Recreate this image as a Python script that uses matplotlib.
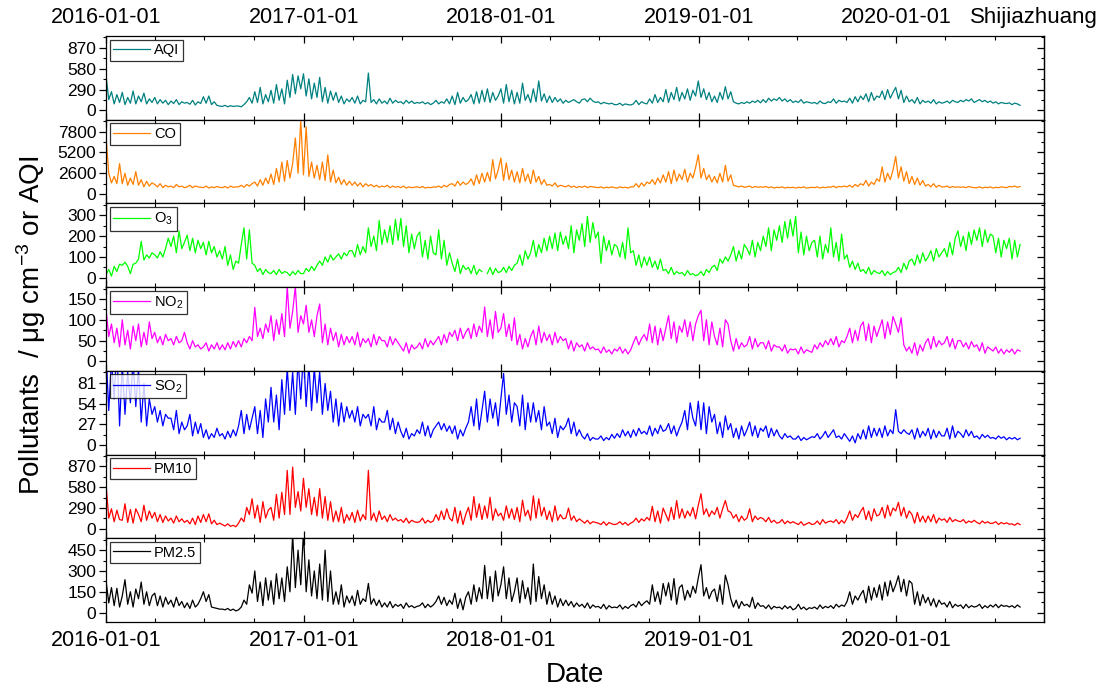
import numpy as np
import pandas as pd
import matplotlib
matplotlib.use("Agg")
import matplotlib.pyplot as plt
import matplotlib.dates as mdates
from matplotlib.ticker import FixedLocator, MultipleLocator

plt.rcParams["font.family"] = ["Liberation Sans", "DejaVu Sans"]
plt.rcParams["mathtext.fontset"] = "custom"
plt.rcParams["mathtext.rm"] = "Liberation Sans"
plt.rcParams["mathtext.it"] = "Liberation Sans:italic"

nan = float("nan")

# sampling: one reading every 5 days starting 2016-01-01 (339 readings)
start_date = "2016-01-01"
step_days = 5
n_points = 339

aqi = [
    # 2016
    480, 150, 260, 90, 220, 110, 250, 80, 180, 100, 270, 90, 200, 120, 240, 90, 160, 110,
    180, 90, 150, 100, 140, 80, 130, 95, 150, 80, 120, 100, 110, 85, 140, 75, 120, 95,
    190, 100, 200, 80, 120, 70, 60, 55, 70, 50, 65, 55, 60, 60, 50, 80, 120, 180, 100,
    260, 110, 320, 90, 220, 120, 280, 100, 360, 140, 300, 90, 420, 180, 500, 230, 480, 300,
    # 2017
    510, 200, 440, 160, 380, 180, 460, 120, 320, 100, 270, 140, 250, 110, 200, 90, 160, 120,
    180, 100, 200, 90, 140, 120, 520, 110, 150, 90, 160, 100, 130, 90, 170, 100, 140, 110,
    120, 90, 140, 100, 130, 95, 110, 100, 120, 90, 110, 80, 100, 140, 90, 120, 100, 160, 90,
    200, 80, 250, 100, 180, 120, 150, 220, 90, 260, 100, 280, 120, 300, 110, 250, 140, 200,
    # 2018
    300, 100, 360, 120, 280, 90, 250, 100, 380, 140, 220, 110, 300, 120, 410, 130, 230, 110,
    200, 110, 180, 120, 160, 100, 140, 110, 130, 150, 120, 100, 150, 160, 120, 170, 130, 110,
    120, 90, 110, 100, 90, 100, 80, 80, 100, 70, 90, 80, 75, 90, 140, 80, 120, 100, 90,
    160, 100, 220, 110, 180, 120, 290, 110, 250, 150, 320, 130, 250, 160, 300, 140, 280, 200,
    # 2019
    410, 180, 300, 150, 250, 120, 200, 110, 250, 150, 330, 160, 260, 120, 100, 90, 110, 95,
    120, 100, 130, 110, 140, 105, 150, 110, 170, 130, 160, 140, 180, 130, 160, 120, 150, 110,
    130, 110, 150, 100, 120, 110, 100, 110, 90, 130, 100, 95, 120, 110, 160, 100, 140, 120, 130,
    110, 170, 100, 190, 120, 200, 150, 230, 120, 250, 140, 200, 180, 270, 150, 290, 170, 250,
    # 2020
    320, 160, 280, 110, 200, 120, 150, 100, 180, 90, 140, 110, 130, 100, 150, 90, 120, 100,
    110, 130, 100, 140, 120, 110, 140, 120, 150, 130, 160, 110, 130, 150, 120, 140, 110, 130,
    100, 120, 90, 110, 100, 95, 105, 80, 100, 90, 70,
]

co = [
    # 2016
    7200, 2600, 1400, 2200, 1300, 3800, 1300, 2600, 1100, 2000, 1200, 2800,
    1100, 1800, 900, 1600, 1000, 1400, 1200, 900, 1300, 800, 1100, 900,
    1000, 800, 1200, 900, 1000, 800, 900, 1100, 800, 1000, 900, 850,
    800, 1000, 750, 900, 800, 950, 850, 800, 950, 750, 1000, 850, 900,
    900, 1100, 850, 1200, 1000, 1300, 1500, 1000, 1800, 1100, 2000, 1300,
    2500, 1200, 3200, 1500, 4000, 1600, 4200, 2000, 3800, 7000, 2600, 9200,
    # 2017
    2400, 8400, 2200, 4000, 2000, 3600, 1800, 4000, 1700, 4900, 1500, 3000,
    1400, 2100, 1200, 1800, 1100, 1600, 1100, 1500, 1000, 1400, 900, 1300,
    1000, 1200, 900, 1100, 850, 1000, 900, 1100, 800, 1000, 850, 950,
    800, 1000, 750, 900, 800, 850, 900, 800, 950, 750, 850, 800, 900,
    850, 1000, 800, 1100, 900, 1200, 1300, 1000, 1600, 1100, 1500, 1200,
    1400, 1900, 1100, 2400, 1300, 2600, 1500, 2700, 1600, 4300, 1900, 3000,
    # 2018
    4500, 1700, 3900, 1800, 3000, 1500, 2800, 1400, 3200, 1600, 2500, 1300,
    3000, 1500, 2200, 1200, 1800, 1100, 1200, 1000, 1400, 900, 1100, 1000,
    900, 1100, 850, 1000, 800, 950, 850, 1000, 800, 950, 900, 850,
    800, 900, 750, 850, 800, 900, 800, 750, 900, 800, 850, 750, 900,
    900, 1300, 850, 1400, 1000, 1500, 1300, 1800, 1200, 2000, 1400, 2400,
    1500, 2800, 1300, 3000, 1600, 2500, 1800, 3100, 1500, 2600, 2000, 3300,
    # 2019
    4900, 2000, 3200, 1800, 2400, 1500, 2200, 1400, 2600, 1500, 3600, 1600,
    2400, 1100, 1000, 900, 1000, 850, 900, 1000, 800, 950, 850, 900,
    850, 950, 800, 900, 750, 850, 800, 900, 750, 850, 800, 850,
    750, 850, 800, 900, 750, 800, 850, 800, 900, 750, 850, 800, 900,
    850, 1000, 800, 950, 900, 1000, 900, 1100, 850, 1200, 950, 1300,
    1100, 1700, 1000, 1500, 1200, 1900, 1600, 3400, 1500, 2600, 1800, 3000,
    # 2020
    4700, 2000, 3400, 1600, 2800, 1300, 2200, 1200, 2000, 1100, 1700, 1000,
    1200, 900, 1300, 850, 1100, 900, 900, 1000, 800, 950, 850, 900,
    850, 900, 800, 950, 850, 800, 800, 900, 750, 850, 800, 900,
    750, 850, 800, 900, 850, 800, 950, 900, 1000, 850, 950,
]

o3 = [
    # 2016
    15, 40, 8, 55, 30, 65, 60, 75, 55, 20, 65, 70, 90, 175, 85, 110, 95, 120,
    110, 95, 125, 100, 140, 190, 150, 200, 120, 225, 140, 170, 205, 130, 190, 120, 180, 140,
    170, 110, 175, 120, 150, 100, 130, 90, 150, 60, 110, 40, 80, 70, 160, 240, 90, 230, 70,
    60, 30, 45, 15, 40, 25, 20, 35, 15, 40, 20, 30, 25, 10, 30, 15, 35, 20,
    # 2017
    20, 45, 30, 55, 35, 60, 80, 60, 100, 75, 110, 85, 100, 115, 90, 120, 105, 130,
    130, 100, 160, 110, 150, 120, 240, 150, 200, 130, 275, 160, 230, 170, 250, 160, 280, 180,
    285, 150, 250, 120, 210, 140, 200, 220, 100, 180, 90, 200, 120, 110, 230, 90, 180, 60, 120,
    70, 30, 90, 20, 60, 40, 50, 20, 60, 15, 40, 30, nan, 20, 50, 15, 45, 25,
    # 2018
    30, 50, 25, 55, 35, 60, 70, 110, 60, 130, 90, 120, 180, 100, 160, 120, 190, 130,
    200, 140, 215, 130, 220, 160, 200, 140, 250, 120, 230, 180, 260, 150, 295, 170, 265, 190,
    220, 70, 200, 130, 180, 110, 160, 150, 100, 170, 90, 240, 120, 130, 60, 110, 50, 100, 60,
    100, 50, 80, 40, 90, 35, 40, 20, 50, 15, 30, 20, 25, 10, 35, 15, 20, 10,
    # 2019
    15, 30, 10, 40, 25, 50, 60, 35, 90, 70, 100, 80, 110, 150, 80, 130, 90, 160,
    140, 110, 180, 100, 170, 130, 200, 150, 240, 130, 230, 180, 250, 170, 270, 190, 280, 200,
    295, 120, 220, 110, 200, 130, 170, 180, 100, 200, 90, 160, 120, 240, 100, 170, 80, 210, 90,
    110, 50, 80, 40, 70, 30, 40, 20, 50, 15, 35, 25, 20, 35, 10, 30, 15, 25,
    # 2020
    30, 50, 25, 70, 40, 80, 90, 60, 110, 70, 120, 80, 100, 130, 80, 140, 100, 120,
    140, 100, 170, 110, 190, 225, 150, 200, 130, 220, 160, 230, 180, 240, 150, 230, 170, 210,
    200, 120, 190, 100, 180, 140, 190, 90, 180, 100, 160,
]

no2 = [
    # 2016
    125, 60, 90, 45, 80, 35, 100, 40, 75, 30, 85, 50, 90, 35, 70, 40, 95, 55,
    70, 45, 60, 40, 65, 50, 55, 40, 60, 45, 50, 70, 45, 30, 50, 35, 40, 30,
    35, 45, 25, 40, 30, 45, 28, 40, 28, 45, 30, 48, 35, 50, 35, 55, 45, 60, 50,
    130, 60, 80, 55, 90, 70, 110, 50, 100, 65, 115, 60, 180, 80, 120, 180, 70, 110,
    # 2017
    90, 135, 70, 100, 60, 110, 138, 45, 90, 40, 80, 50, 70, 35, 65, 40, 60, 45,
    60, 40, 70, 35, 55, 45, 55, 35, 65, 40, 60, 50, 50, 35, 60, 40, 55, 45,
    35, 25, 45, 20, 40, 30, 35, 45, 30, 55, 35, 50, 40, 50, 60, 40, 65, 45, 70,
    60, 75, 50, 80, 55, 70, 80, 55, 90, 60, 85, 70, 131, 60, 100, 55, 120, 70,
    # 2018
    80, 115, 60, 90, 50, 105, 40, 65, 30, 55, 35, 60, 75, 40, 85, 45, 70, 50,
    65, 40, 70, 45, 60, 50, 55, 30, 50, 25, 45, 35, 40, 25, 45, 30, 35, 28,
    30, 20, 35, 22, 28, 18, 30, 25, 35, 20, 30, 18, 28, 45, 60, 40, 55, 65, 50,
    90, 45, 85, 40, 80, 50, 80, 110, 55, 95, 45, 85, 70, 100, 60, 95, 50, 90,
    # 2019
    110, 123, 50, 100, 40, 95, 60, 40, 80, 35, 100, 90, 50, 25, 55, 30, 45, 35,
    40, 60, 30, 55, 35, 45, 45, 30, 50, 25, 40, 35, 35, 25, 40, 20, 30, 28,
    30, 18, 35, 20, 28, 25, 22, 40, 30, 45, 35, 50, 40, 55, 40, 60, 35, 50, 45,
    60, 80, 45, 75, 50, 85, 95, 50, 90, 45, 85, 60, 80, 100, 55, 95, 65, 108,
    # 2020
    90, 70, 105, 40, 25, 35, 20, 45, 15, 40, 25, 45, 55, 30, 60, 35, 50, 40,
    45, 60, 35, 55, 30, 50, 50, 35, 45, 30, 48, 35, 40, 25, 45, 20, 35, 30,
    25, 35, 20, 30, 18, 28, 22, 30, 18, 28, 25,
]

so2 = [
    # 2016
    120, 45, 110, 60, 130, 25, 105, 40, 95, 55, 110, 50, 100, 30, 80, 25, 60, 40,
    50, 30, 45, 25, 40, 35, 35, 20, 45, 15, 30, 20, 25, 40, 12, 30, 15, 28,
    10, 20, 8, 15, 10, 22, 12, 15, 8, 18, 10, 20, 12, 25, 45, 15, 40, 20, 35,
    50, 15, 45, 10, 60, 30, 75, 30, 65, 20, 85, 40, 100, 45, 95, 40, 110, 60,
    # 2017
    120, 50, 105, 45, 100, 55, 95, 40, 80, 45, 70, 30, 60, 25, 55, 30, 50, 35,
    45, 30, 50, 25, 40, 35, 40, 25, 50, 20, 35, 30, 30, 45, 20, 35, 15, 30,
    18, 10, 22, 8, 15, 12, 20, 15, 30, 12, 25, 10, 20, 25, 30, 20, 28, 18, 25,
    15, 25, 8, 20, 12, 22, 30, 50, 25, 60, 20, 45, 70, 30, 60, 35, 55, 25,
    # 2018
    60, 93, 40, 65, 30, 55, 50, 25, 65, 20, 55, 30, 55, 30, 45, 20, 50, 25,
    30, 15, 35, 10, 25, 20, 25, 35, 15, 30, 12, 20, 12, 8, 15, 6, 10, 8,
    8, 12, 6, 10, 7, 14, 9, 15, 10, 20, 12, 18, 10, 20, 12, 22, 15, 18, 14,
    25, 12, 22, 15, 26, 18, 20, 28, 15, 25, 12, 22, 30, 45, 20, 55, 35, 25,
    # 2019
    57, 20, 55, 15, 50, 30, 40, 15, 30, 10, 38, 20, 28, 10, 22, 8, 25, 12,
    20, 30, 12, 25, 10, 22, 18, 25, 10, 22, 12, 20, 12, 8, 15, 10, 12, 8,
    8, 12, 6, 10, 7, 9, 11, 10, 15, 8, 12, 18, 10, 15, 20, 10, 12, 8, 15,
    10, 5, 12, 3, 15, 8, 20, 8, 25, 10, 22, 12, 22, 10, 25, 12, 20, 15,
    # 2020
    46, 18, 15, 20, 16, 14, 20, 8, 22, 10, 18, 12, 22, 8, 20, 10, 18, 12,
    12, 22, 8, 25, 10, 18, 15, 10, 20, 12, 18, 10, 12, 8, 14, 10, 13, 9,
    10, 8, 12, 9, 11, 7, 10, 8, 10, 7, 9,
]

pm10 = [
    # 2016
    620, 150, 280, 100, 260, 130, 120, 350, 90, 270, 80, 280, 200, 100, 330, 120, 250, 150,
    230, 100, 200, 90, 180, 110, 150, 80, 180, 100, 140, 90, 120, 70, 150, 60, 180, 90,
    200, 100, 210, 70, 120, 60, 80, 60, 40, 70, 35, 50, 30, 80, 150, 100, 300, 200, 420,
    150, 330, 90, 380, 150, 260, 300, 120, 480, 150, 510, 200, 815, 200, 860, 300, 520, 250,
    # 2017
    705, 300, 560, 200, 440, 180, 560, 150, 450, 120, 380, 100, 250, 100, 300, 80, 200, 120,
    230, 90, 260, 110, 200, 130, 815, 120, 220, 100, 250, 130, 180, 100, 200, 120, 150, 110,
    130, 90, 150, 80, 120, 100, 90, 100, 150, 80, 120, 90, 110, 200, 120, 250, 130, 280, 150,
    110, 300, 80, 250, 60, 200, 300, 120, 450, 160, 350, 130, 320, 150, 440, 120, 280, 180,
    # 2018
    220, 120, 320, 150, 280, 130, 300, 100, 400, 180, 260, 120, 460, 150, 420, 180, 300, 130,
    250, 100, 320, 120, 200, 140, 150, 290, 120, 180, 100, 140, 110, 80, 120, 70, 100, 90,
    80, 60, 100, 50, 90, 70, 60, 70, 100, 60, 90, 50, 80, 100, 150, 90, 140, 110, 160,
    120, 315, 100, 250, 80, 290, 200, 110, 300, 130, 395, 150, 280, 150, 250, 180, 300, 140,
    # 2019
    330, 490, 200, 280, 170, 250, 200, 300, 150, 280, 395, 250, 230, 150, 200, 100, 180, 120,
    150, 280, 100, 180, 130, 160, 140, 100, 160, 90, 120, 80, 90, 130, 70, 110, 80, 100,
    80, 60, 100, 50, 70, 90, 60, 70, 110, 60, 130, 80, 100, 110, 90, 130, 70, 120, 80,
    150, 250, 120, 200, 160, 240, 300, 130, 250, 110, 280, 180, 200, 300, 150, 330, 180, 290,
    # 2020
    250, 370, 180, 300, 150, 250, 200, 80, 230, 100, 180, 90, 180, 100, 200, 80, 150, 120,
    140, 90, 160, 100, 130, 110, 100, 130, 80, 110, 90, 120, 90, 70, 110, 80, 100, 75,
    80, 100, 60, 90, 70, 85, 65, 70, 50, 80, 60,
]

pm25 = [
    # 2016
    230, 70, 180, 50, 175, 40, 120, 237, 60, 150, 40, 170, 100, 220, 60, 150, 50, 120,
    140, 50, 120, 40, 110, 60, 90, 40, 110, 50, 80, 35, 70, 30, 90, 40, 60, 100,
    150, 80, 130, 40, 35, 30, 25, 25, 20, 30, 15, 25, 12, 20, 40, 90, 60, 200, 140,
    300, 80, 220, 50, 250, 90, 230, 60, 280, 100, 250, 80, 330, 150, 560, 180, 450, 200,
    # 2017
    580, 150, 380, 120, 300, 100, 350, 90, 450, 80, 300, 60, 150, 60, 200, 40, 120, 70,
    120, 50, 160, 60, 100, 80, 210, 60, 100, 50, 90, 40, 70, 40, 80, 35, 60, 45,
    60, 30, 70, 40, 50, 35, 45, 50, 70, 35, 60, 40, 55, 80, 120, 60, 110, 50, 90,
    60, 140, 30, 100, 20, 110, 150, 60, 200, 80, 180, 100, 340, 100, 260, 80, 300, 120,
    # 2018
    200, 330, 100, 250, 80, 150, 250, 70, 230, 100, 180, 60, 350, 80, 260, 100, 200, 60,
    150, 60, 120, 40, 100, 50, 90, 50, 80, 40, 70, 45, 60, 35, 70, 30, 55, 40,
    45, 30, 60, 25, 50, 35, 40, 35, 55, 25, 45, 30, 50, 60, 40, 80, 50, 70, 85,
    60, 200, 80, 150, 60, 210, 120, 215, 90, 245, 60, 180, 200, 90, 160, 110, 190, 140,
    # 2019
    250, 345, 120, 180, 100, 150, 170, 80, 200, 60, 270, 200, 100, 40, 90, 30, 80, 50,
    60, 40, 110, 30, 70, 45, 50, 30, 55, 25, 45, 35, 40, 25, 50, 30, 45, 20,
    30, 60, 25, 40, 20, 35, 30, 40, 25, 55, 30, 45, 35, 50, 30, 60, 40, 55, 45,
    80, 150, 60, 120, 90, 130, 160, 70, 190, 90, 180, 110, 200, 90, 220, 120, 230, 150,
    # 2020
    200, 265, 150, 240, 120, 230, 210, 60, 150, 50, 130, 70, 110, 50, 100, 40, 90, 60,
    70, 40, 80, 35, 60, 45, 55, 30, 60, 35, 50, 40, 45, 60, 30, 50, 35, 55,
    40, 60, 35, 55, 45, 50, 40, 50, 35, 55, 40,
]

series_labels = ["AQI", "CO", "O$_3$", "NO$_2$", "SO$_2$", "PM10", "PM2.5"]
series_colors = ["#008080", "#FF8000", "#00FF00", "#FF00FF", "#0000FF", "#FF0000", "#000000"]
top_ticks = [870, 7800, 300, 150, 81, 870, 450]
series_data = [aqi, co, o3, no2, so2, pm10, pm25]

dates = pd.date_range(start_date, periods=n_points, freq=f"{step_days}D")

fig, axes = plt.subplots(7, 1, sharex=True, figsize=(11.07, 6.93), dpi=100)
fig.subplots_adjust(left=0.0958, right=0.943, top=0.948, bottom=0.1025, hspace=0)

for ax, vals, lab, col, T in zip(axes, series_data, series_labels, series_colors, top_ticks):
    v = np.array(vals, dtype=float)
    n = min(len(v), len(dates))
    ax.plot(dates[:n], v[:n], color=col, lw=0.9, label=lab)
    ax.set_ylim(-0.15 * T, 1.19 * T)
    ax.yaxis.set_major_locator(FixedLocator([0, T / 3, 2 * T / 3, T]))
    ax.yaxis.set_minor_locator(MultipleLocator(T / 6))
    ax.yaxis.set_major_formatter(matplotlib.ticker.FuncFormatter(lambda x, p: f"{x:.0f}"))
    ax.tick_params(axis="y", which="major", direction="out", length=5, width=0.9,
                   labelsize=12.5, pad=2)
    ax.tick_params(axis="y", which="minor", direction="out", length=2.5, width=0.8)
    sec = ax.secondary_yaxis("right")
    sec.yaxis.set_major_locator(FixedLocator([0, T / 3, 2 * T / 3, T]))
    sec.yaxis.set_minor_locator(MultipleLocator(T / 6))
    sec.tick_params(which="major", direction="in", length=5, width=0.9, labelright=False)
    sec.tick_params(which="minor", direction="in", length=2.5, width=0.8)
    sec.spines["right"].set_linewidth(0.9)
    ax.tick_params(axis="x", which="major", direction="in", length=5, width=0.9,
                   top=True, bottom=True, labelsize=15.5)
    ax.tick_params(axis="x", which="minor", direction="in", length=3, width=0.8,
                   top=True, bottom=True)
    for s in ax.spines.values():
        s.set_linewidth(0.9)
    leg = ax.legend(loc="upper left", fontsize=10.5, frameon=True, fancybox=False,
                    borderaxespad=0.25, handlelength=2.5, handletextpad=0.3,
                    borderpad=0.25, labelspacing=0.2)
    leg.get_frame().set_edgecolor("black")
    leg.get_frame().set_linewidth(0.9)

axes[0].set_xlim(pd.Timestamp("2016-01-01"), pd.Timestamp("2020-09-30"))
for ax in axes:
    ax.xaxis.set_major_locator(mdates.YearLocator())
    ax.xaxis.set_minor_locator(mdates.MonthLocator(bymonth=[4, 7, 10]))
    ax.xaxis.set_major_formatter(mdates.DateFormatter("%Y-%m-%d"))

axes[0].tick_params(axis="x", which="major", labeltop=True, labelbottom=False, pad=6)
axes[-1].tick_params(axis="x", which="major", labelbottom=True, pad=6)

axes[-1].set_xlabel("Date", fontsize=20, labelpad=8)
fig.text(0.028, 0.53, "Pollutants  / μg cm$^{\\mathrm{-3}}$ or AQI", rotation=90,
         fontsize=20, ha="center", va="center")
fig.text(0.992, 0.975, "Shijiazhuang", fontsize=16, ha="right", va="center")

fig.savefig("out.png", dpi=100)
